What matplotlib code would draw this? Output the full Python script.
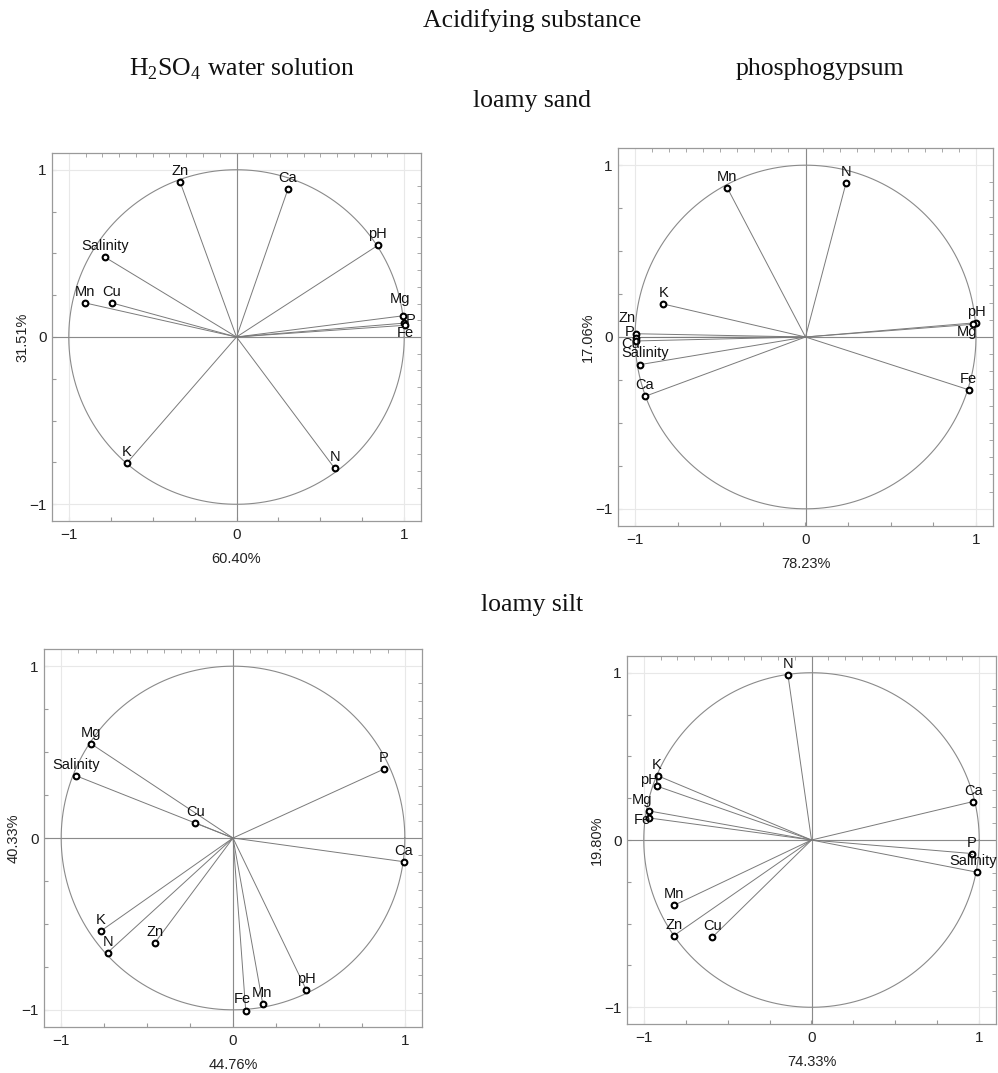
import numpy as np
import matplotlib.pyplot as plt
from matplotlib.ticker import MultipleLocator

plt.rcParams['font.family'] = ['Liberation Sans', 'DejaVu Sans']
plt.rcParams['mathtext.fontset'] = 'custom'
plt.rcParams['mathtext.rm'] = 'Liberation Serif'
plt.rcParams['axes.unicode_minus'] = True

# loadings on PC1 / PC2 for each soil x acidifying substance
sand_h2so4_names = ['Zn', 'Ca', 'pH', 'Salinity', 'Mn', 'Cu', 'Mg', 'P', 'Fe', 'K', 'N']
sand_h2so4_pc1 = [-0.336, 0.307, 0.843, -0.784, -0.904, -0.744, 0.995, 1.000, 1.003, -0.654, 0.586]
sand_h2so4_pc2 = [0.926, 0.885, 0.548, 0.477, 0.204, 0.204, 0.127, 0.083, 0.070, -0.754, -0.786]
sand_h2so4_var = ['60.40%', '31.51%']

sand_phos_names = ['Mn', 'N', 'K', 'Zn', 'P', 'Cu', 'Salinity', 'Ca', 'pH', 'Mg', 'Fe']
sand_phos_pc1 = [-0.459, 0.238, -0.835, -0.994, -0.995, -0.996, -0.972, -0.943, 1.000, 0.984, 0.957]
sand_phos_pc2 = [0.868, 0.897, 0.192, 0.019, -0.003, -0.023, -0.161, -0.346, 0.083, 0.074, -0.307]
sand_phos_var = ['78.23%', '17.06%']

silt_h2so4_names = ['Mg', 'Salinity', 'Cu', 'P', 'Ca', 'K', 'N', 'Zn', 'Fe', 'Mn', 'pH']
silt_h2so4_pc1 = [-0.827, -0.913, -0.219, 0.878, 0.994, -0.769, -0.730, -0.454, 0.074, 0.173, 0.427]
silt_h2so4_pc2 = [0.549, 0.362, 0.088, 0.401, -0.138, -0.541, -0.667, -0.609, -1.004, -0.965, -0.885]
silt_h2so4_var = ['44.76%', '40.33%']

silt_phos_names = ['N', 'K', 'pH', 'Mg', 'Fe', 'Ca', 'P', 'Salinity', 'Mn', 'Zn', 'Cu']
silt_phos_pc1 = [-0.140, -0.914, -0.924, -0.970, -0.970, 0.964, 0.956, 0.984, -0.821, -0.821, -0.592]
silt_phos_pc2 = [0.984, 0.383, 0.323, 0.174, 0.132, 0.230, -0.081, -0.192, -0.391, -0.572, -0.582]
silt_phos_var = ['74.33%', '19.80%']

# label nudges (pixels) and alignment where the default "above" would collide
sand_h2so4_lab = {'Mg': (-3, 10, 'center', 'bottom'), 'P': (2, 3, 'left', 'center'),
                  'Fe': (1, -1, 'center', 'top')}
sand_phos_lab = {'Zn': (-9, 9, 'center', 'bottom'), 'P': (-1, 6, 'right', 'center'),
                 'Cu': (4, -3, 'right', 'center'), 'Mg': (-6, -1, 'center', 'top'),
                 'Salinity': (5, 5, 'center', 'bottom')}
silt_h2so4_lab = {'Fe': (-3, 5, 'center', 'bottom'), 'Mn': (-1, 4, 'center', 'bottom')}
silt_phos_lab = {'pH': (2, 6, 'right', 'center'), 'Mg': (-7, 4, 'center', 'bottom'),
                 'Fe': (2, -2, 'right', 'center'), 'Salinity': (-3, 4, 'center', 'bottom'),
                 'K': (-2, 4, 'center', 'bottom')}

GREY = '#8a8a8a'
SPINE = '#9a9a9a'


def draw_panel(ax, names, pc1, pc2, var, lab):
    ax.set_xlim(-1.1, 1.1)
    ax.set_ylim(-1.1, 1.1)
    ax.set_xticks([-1, 0, 1])
    ax.set_yticks([-1, 0, 1])
    ax.grid(True, color='#e8e8e8', lw=0.8)
    ax.set_axisbelow(True)
    for s in ax.spines.values():
        s.set_color(SPINE)
        s.set_linewidth(0.9)

    # fine ticks on top/right, coarser ones on bottom/left
    ax.xaxis.set_minor_locator(MultipleLocator(0.1))
    ax.yaxis.set_minor_locator(MultipleLocator(0.1))
    ax.tick_params(which='minor', direction='in', length=3, color=SPINE,
                   top=True, right=True, bottom=False, left=False)
    ax.tick_params(which='major', length=0, labelsize=11, colors='#222222')
    ax.tick_params(axis='x', which='major', pad=5)
    ax.tick_params(axis='y', which='major', pad=4)
    secx = ax.secondary_xaxis('bottom')
    secx.set_xticks(np.arange(-1, 1.01, 0.25))
    secx.tick_params(direction='in', length=3, color=SPINE, labelbottom=False)
    secx.spines['bottom'].set_visible(False)
    secy = ax.secondary_yaxis('left')
    secy.set_yticks(np.arange(-1, 1.01, 0.25))
    secy.tick_params(direction='in', length=3, color=SPINE, labelleft=False)
    secy.spines['left'].set_visible(False)

    ax.axhline(0, color=GREY, lw=0.8, zorder=1)
    ax.axvline(0, color=GREY, lw=0.8, zorder=1)
    t = np.linspace(0, 2 * np.pi, 400)
    ax.plot(np.cos(t), np.sin(t), color=GREY, lw=0.8, zorder=1)

    for x, y in zip(pc1, pc2):
        ax.plot([0, x], [0, y], color='#7a7a7a', lw=0.7, zorder=2)
    ax.scatter(pc1, pc2, s=17, facecolors='white', edgecolors='black',
               linewidths=1.5, zorder=3)

    for n, x, y in zip(names, pc1, pc2):
        dx, dy, ha, va = lab.get(n, (0, 4, 'center', 'bottom'))
        ax.annotate(n, (x, y), xytext=(dx, dy), textcoords='offset pixels',
                    ha=ha, va=va, fontsize=10.5, color='#111111', zorder=4)

    # axis titles sit a fixed pixel distance from the frame
    w, h = ax.bbox.width, ax.bbox.height
    ax.set_xlabel(var[0], fontsize=10.5, color='#222222', va='center')
    ax.set_ylabel(var[1], fontsize=10.5, color='#222222', va='center')
    ax.xaxis.set_label_coords(0.5, -38 / h)
    ax.yaxis.set_label_coords(-30 / w, 0.5)


W, H = 998, 1073
fig = plt.figure(figsize=(W / 100, H / 100), dpi=100)


def add_ax(left, top, right, bottom):
    return fig.add_axes([left / W, 1 - bottom / H, (right - left) / W, (bottom - top) / H])


ax1 = add_ax(52, 153, 421, 521)
ax2 = add_ax(618, 148, 993, 526)
ax3 = add_ax(44, 649, 422, 1027)
ax4 = add_ax(627, 656, 996, 1024)

draw_panel(ax1, sand_h2so4_names, sand_h2so4_pc1, sand_h2so4_pc2, sand_h2so4_var, sand_h2so4_lab)
draw_panel(ax2, sand_phos_names, sand_phos_pc1, sand_phos_pc2, sand_phos_var, sand_phos_lab)
draw_panel(ax3, silt_h2so4_names, silt_h2so4_pc1, silt_h2so4_pc2, silt_h2so4_var, silt_h2so4_lab)
draw_panel(ax4, silt_phos_names, silt_phos_pc1, silt_phos_pc2, silt_phos_var, silt_phos_lab)

# headings
serif = dict(family='Liberation Serif', fontsize=18.5, color='#111111', ha='center', va='center')
fig.text(532 / W, 1 - 21 / H, 'Acidifying substance', **serif)
fig.text(242 / W, 1 - 69 / H, r'H$_\mathrm{2}$SO$_\mathrm{4}$ water solution', **serif)
fig.text(820 / W, 1 - 69 / H, 'phosphogypsum', **serif)
fig.text(532 / W, 1 - 101 / H, 'loamy sand', **serif)
fig.text(532 / W, 1 - 605 / H, 'loamy silt', **serif)

fig.savefig('out.png', dpi=100)
